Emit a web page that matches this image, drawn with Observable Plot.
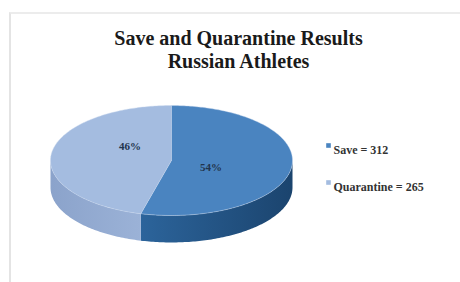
<!DOCTYPE html>
<html><head><meta charset="utf-8">
<script src="https://cdn.jsdelivr.net/npm/d3@7"></script>
<script src="https://cdn.jsdelivr.net/npm/@observablehq/plot@0.6"></script>
<style>
body{margin:0;background:#fff;}
#wrap{position:relative;width:460px;height:282px;overflow:hidden;}
#frame{position:absolute;left:9px;top:12px;right:-4px;bottom:-4px;border-left:2px solid #e4e4e4;border-top:2px solid #ececec;}
#chart{position:absolute;left:0;top:0;}
</style></head>
<body><div id="wrap"><div id="frame"></div><div id="chart"></div></div>
<script>
const categories = ["Save", "Quarantine"];
const values = [312, 265];
const titleLines = ["Save and Quarantine Results", "Russian Athletes"];
const topColors = ["#4a84c0", "#a4bce0"];
const sideColors = ["url(#gSave)", "url(#gQuar)"];

const total = d3.sum(values);
const arcs = d3.pie().sort(null).value(d => d)(values);
const depth = 0.49;
const step = Math.PI / 180;

function arcPoints(a0, a1) {
  const pts = [];
  const n = Math.max(2, Math.ceil((a1 - a0) / step));
  for (let i = 0; i <= n; i++) {
    const t = a0 + (a1 - a0) * i / n;
    pts.push({x: Math.sin(t), y: Math.cos(t)});
  }
  return pts;
}
const topPolys = arcs.map(a => [{x: 0, y: 0}, ...arcPoints(a.startAngle, a.endAngle)]);
const sidePolys = arcs.map(a => {
  const s = Math.max(a.startAngle, Math.PI / 2), e = Math.min(a.endAngle, 3 * Math.PI / 2);
  if (e <= s) return [];
  const up = arcPoints(s, e);
  const down = up.map(p => ({x: p.x, y: p.y - depth})).reverse();
  return [...up, ...down];
});
const labels = arcs.map((a, i) => {
  const m = (a.startAngle + a.endAngle) / 2;
  return {x: Math.sin(m) * 0.33, y: Math.cos(m) * 0.33, text: Math.round(values[i] / total * 100) + "%"};
});

const marks = [];
sidePolys.forEach((p, i) => marks.push(Plot.line(p, {x: "x", y: "y", fill: sideColors[i], stroke: "none"})));
topPolys.forEach((p, i) => marks.push(Plot.line(p, {x: "x", y: "y", fill: topColors[i], stroke: "#c9d9ee", strokeWidth: 0.6, strokeOpacity: 0.7})));
marks.push(Plot.text([labels[0]], {x: "x", y: "y", text: "text", dy: 5, fontSize: 11, fontWeight: "bold", fill: "#22344d", fontFamily: "Liberation Serif"}));
marks.push(Plot.text([labels[1]], {x: "x", y: "y", text: "text", dy: -12, dx: -2, fontSize: 11, fontWeight: "bold", fill: "#22344d", fontFamily: "Liberation Serif"}));
marks.push(Plot.text([titleLines.join("\n")], {frameAnchor: "top", dx: 8, dy: 29, lineAnchor: "top", lineHeight: 1.12, fontSize: 20, fontWeight: "bold", fill: "#1a1a1a", fontFamily: "Liberation Serif"}));
categories.forEach((c, i) => {
  marks.push(Plot.dot([0], {frameAnchor: "top-left", dx: 328, dy: 145 + i * 37, symbol: "square", r: 2.6, fill: topColors[i], stroke: "none"}));
  marks.push(Plot.text([`${c} = ${values[i]}`], {frameAnchor: "top-left", dx: 333, dy: 145 + i * 37, textAnchor: "start", fontSize: 12, fontWeight: "bold", fill: "#333", fontFamily: "Liberation Serif", style: "letter-spacing:0.3px"}));
});

const plot = Plot.plot({
  width: 460, height: 282, margin: 0,
  x: {domain: [-1, 1], range: [50, 292], axis: null},
  y: {domain: [-1, 1], range: [215, 105], axis: null},
  style: {background: "transparent"},
  marks
});
const defs = d3.select(plot).insert("defs", ":first-child");
const g1 = defs.append("linearGradient").attr("id", "gSave").attr("x1", 0).attr("x2", 1).attr("y1", 0).attr("y2", 0);
g1.append("stop").attr("offset", 0).attr("stop-color", "#2c649b");
g1.append("stop").attr("offset", 1).attr("stop-color", "#1b446e");
const g2 = defs.append("linearGradient").attr("id", "gQuar").attr("x1", 0).attr("x2", 1).attr("y1", 0).attr("y2", 0);
g2.append("stop").attr("offset", 0).attr("stop-color", "#8ba3cb");
g2.append("stop").attr("offset", 1).attr("stop-color", "#9bb2d7");
document.getElementById("chart").appendChild(plot);
</script></body></html>
